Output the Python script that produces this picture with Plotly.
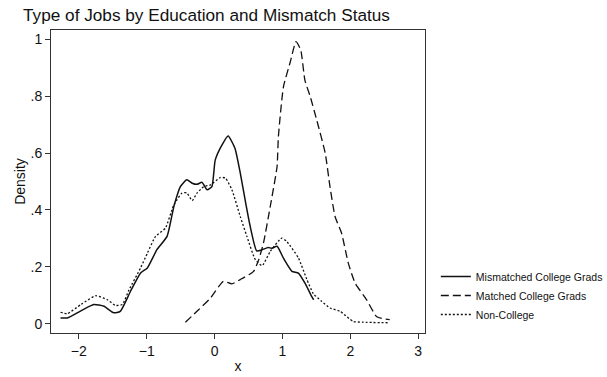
import plotly.graph_objects as go

# Kernel density estimates by group (x grid and density values)
mismatched_x = [-2.27, -2.17, -1.97, -1.78, -1.63, -1.485, -1.39, -1.24, -1.09, -0.99, -0.85, -0.70,
                -0.60, -0.504, -0.41, -0.33, -0.26, -0.185, -0.11, -0.04, 0.01, 0.11, 0.20, 0.30,
                0.378, 0.45, 0.525, 0.62, 0.70, 0.79, 0.84, 0.92, 1.015, 1.14, 1.235, 1.33, 1.43, 1.46]
mismatched_y = [0.020, 0.020, 0.045, 0.067, 0.061, 0.038, 0.043, 0.113, 0.178, 0.196, 0.260, 0.307,
                0.412, 0.482, 0.506, 0.494, 0.490, 0.497, 0.471, 0.482, 0.576, 0.629, 0.660, 0.617,
                0.530, 0.435, 0.342, 0.256, 0.260, 0.268, 0.265, 0.272, 0.230, 0.184, 0.178, 0.143, 0.096, 0.084]

matched_x = [-0.43, -0.235, -0.06, 0.13, 0.255, 0.378, 0.575, 0.65, 0.72, 0.82, 0.92, 0.94, 1.015,
             1.11, 1.20, 1.27, 1.33, 1.41, 1.505, 1.63, 1.70, 1.775, 1.87, 1.97, 2.07, 2.24, 2.39, 2.58]
matched_y = [0.005, 0.049, 0.090, 0.149, 0.140, 0.155, 0.184, 0.225, 0.283, 0.412, 0.552, 0.658, 0.834,
             0.916, 0.992, 0.962, 0.857, 0.798, 0.716, 0.600, 0.482, 0.377, 0.319, 0.213, 0.143, 0.084, 0.024, 0.014]

noncollege_x = [-2.27, -2.17, -1.97, -1.75, -1.58, -1.46, -1.36, -1.26, -1.09, -0.99, -0.87, -0.725,
                -0.60, -0.48, -0.41, -0.33, -0.26, -0.16, -0.06, 0.084, 0.16, 0.255, 0.378, 0.476,
                0.60, 0.70, 0.82, 0.99, 1.06, 1.235, 1.36, 1.456, 1.58, 1.70, 1.85, 2.04, 2.18, 2.58]
noncollege_y = [0.040, 0.035, 0.067, 0.098, 0.084, 0.064, 0.067, 0.119, 0.196, 0.248, 0.307, 0.336,
                0.418, 0.459, 0.460, 0.433, 0.459, 0.482, 0.488, 0.514, 0.512, 0.471, 0.377, 0.307,
                0.225, 0.204, 0.254, 0.301, 0.290, 0.231, 0.155, 0.105, 0.078, 0.055, 0.043, 0.008, 0.005, 0.003]

y_ticks = [0, 0.2, 0.4, 0.6, 0.8, 1]
y_tick_labels = ["0", ".2", ".4", ".6", ".8", "1"]
x_ticks = [-2, -1, 0, 1, 2, 3]

fig = go.Figure()
fig.add_trace(go.Scatter(x=mismatched_x, y=mismatched_y, mode="lines",
                         name="Mismatched College Grads",
                         line=dict(color="#111111", width=1.5, dash="solid", shape="spline", smoothing=0.5)))
fig.add_trace(go.Scatter(x=matched_x, y=matched_y, mode="lines",
                         name="Matched College Grads",
                         line=dict(color="#111111", width=1.3, dash="8px,4px", shape="spline", smoothing=0.5)))
fig.add_trace(go.Scatter(x=noncollege_x, y=noncollege_y, mode="lines",
                         name="Non-College",
                         line=dict(color="#111111", width=1.3, dash="2px,2px", shape="spline", smoothing=0.5)))

axis_font = dict(family="Liberation Sans, Arial, sans-serif", size=14, color="#111111")

fig.update_layout(
    width=607, height=377,
    margin=dict(l=51, r=182, t=30, b=44, autoexpand=False),
    paper_bgcolor="white", plot_bgcolor="white",
    title=dict(text="Type of Jobs by Education and Mismatch Status",
               x=0.038, xanchor="left", y=0.96, yanchor="middle",
               font=dict(family="Liberation Sans, Arial, sans-serif", size=17.2, color="#111111")),
    legend=dict(xref="container", yref="container", x=0.718, xanchor="left", y=0.305, yanchor="top",
                font=dict(family="Liberation Sans, Arial, sans-serif", size=10.5, color="#111111"),
                bgcolor="rgba(0,0,0,0)", itemwidth=30, tracegroupgap=0),
    showlegend=True,
)
fig.update_xaxes(range=[-2.41, 3.1], tickvals=x_ticks, ticks="outside", ticklen=5,
                 tickcolor="#333333", showgrid=False, zeroline=False,
                 showline=True, linecolor="#333333", linewidth=1, mirror=True,
                 tickfont=axis_font, title=dict(text="x", font=axis_font, standoff=3))
fig.update_yaxes(range=[-0.033, 1.033], tickvals=y_ticks, ticktext=y_tick_labels,
                 ticks="outside", ticklen=5, tickcolor="#333333", showgrid=False, zeroline=False,
                 showline=True, linecolor="#333333", linewidth=1, mirror=True,
                 tickfont=axis_font, title=dict(text="Density", font=axis_font, standoff=1))

fig.write_html("out.html")
